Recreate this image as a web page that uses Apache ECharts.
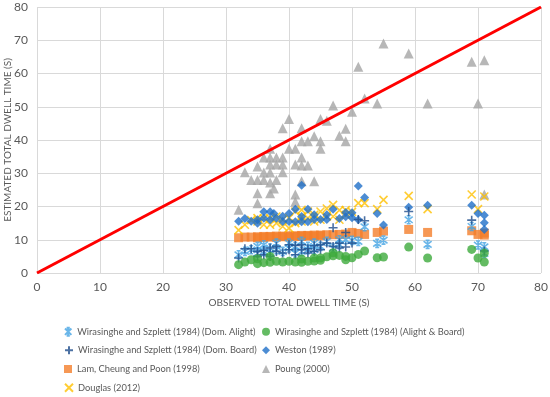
<!DOCTYPE html>
<html><head><meta charset="utf-8">
<script src="https://cdn.jsdelivr.net/npm/echarts@6/dist/echarts.min.js"></script>
<style>html,body{margin:0;padding:0;background:#fff}#c{width:550px;height:397px}</style>
</head><body><div id="c"></div>
<script>
// ---- data (observed, estimated) ----
const domAlight = [[32,5.5],[33,6.5],[34,7],[35,8],[35,6],[36,6.5],[36,8.5],[37,6],[37,7.5],[38,9],[38,7],[39,6.5],[40,9],[40,7.5],[41,6],[41,8],[42,9.5],[42,6.5],[43,8],[43,7],[44,9],[44,7],[45,8],[46,9.5],[47,7.5],[48,10],[48,8.5],[49,10],[50,9.8],[51,9.5],[52,13.9],[54,8.9],[55,9.9],[59,16],[62,8.6],[69,14],[70,8.4],[71,7.9],[71,5.9]];
const alightBoard = [[32,2.5],[33,3.3],[34,4],[35,4.3],[35,2.8],[36,3.1],[37,5],[37,3.2],[38,3.5],[39,3.3],[40,3.5],[41,3.3],[42,4.2],[42,3.2],[43,3.5],[44,4.5],[44,3.6],[45,3.8],[45,4.5],[46,4.9],[47,6.1],[47,5.2],[48,5.3],[49,5],[49,4],[50,4.6],[51,5.6],[52,6.6],[54,4.6],[55,4.8],[59,7.8],[62,4.5],[69,7.1],[70,4.5],[71,6],[71,3.3]];
const domBoard = [[32,4.5],[33,7.3],[34,7.3],[35,5],[35,6.5],[36,6.8],[36,5.5],[37,7.5],[37,5],[38,8],[38,6.5],[39,6],[40,8.5],[40,7],[41,8.3],[41,5.5],[42,8.5],[42,7],[43,7.3],[43,6],[44,8.2],[44,6.5],[45,8.5],[45,7],[46,9],[47,13.6],[47,8],[48,9],[48,7.5],[49,12.2],[49,7.8],[50,9],[51,16.1],[52,15.7],[59,18.5],[69,15.9],[71,6.6]];
const weston = [[32,15.6],[33,16.4],[34,15.6],[35,16],[35,15],[36,18.4],[36,16.5],[37,18.4],[37,16],[37.6,17.9],[38,16.5],[39,17.1],[39,15.5],[40,17.9],[40,15.5],[41,19.2],[41,15.4],[42,26.4],[42,15.4],[42,17],[43,19.2],[43,15.4],[44,16.1],[44,17.5],[45,16.1],[46,16.1],[46,17.5],[47,19.2],[48,16.4],[49,18.2],[49,16.9],[50,18.1],[50,16.6],[51,26.2],[51,16],[52,22.7],[54,17.9],[55,14.4],[59,19.8],[62,20.4],[69,20.4],[70,17.9],[71,17.4],[71,15.1],[71,13.1]];
const lam = [[32,10.6],[33,10.8],[34,10.8],[35,10.9],[35,10.6],[36,11],[36,10.7],[37,11],[37,10.8],[38,11.1],[38,10.8],[39,11.1],[39,10.9],[40,11.2],[40,10.9],[41,11.2],[41,11],[42,11.3],[42,11],[43,11.3],[43,11.1],[44,11.4],[44,11.1],[45,11.4],[45,11.2],[46,11.5],[47,11.5],[48,11.6],[49,11.7],[50,12.2],[51,11.9],[52,11.6],[54,12.2],[55,12.6],[59,13.1],[62,12.2],[69,12.7],[70,11.6],[71,11.4],[71,12]];
const poung = [[32,19],[33,30.3],[34,28],[35,28],[35,32],[35,24],[35,21],[36,28],[36,30.2],[36,34.7],[37,37.4],[37,34.7],[37,32.6],[37,30.2],[37,27.2],[37,24],[37.6,25.4],[38,28],[38,32.6],[38,34.7],[39,43.5],[39,34.7],[39,32.6],[39,30.3],[40,46.3],[40,37.4],[41,37.4],[41,32.6],[41,23.6],[41,21.4],[42,43.5],[42,39.6],[42,34.7],[42,32.3],[42,27.6],[43,39.6],[43,32.3],[44,41.1],[44,27.6],[45,46.3],[45,39.6],[45,37.4],[46,45.8],[47,50.4],[48,41.3],[49,43.4],[49,39.6],[50,48.5],[51,62],[52,52.5],[54,51],[55,69],[59,66],[62,51],[69,63.5],[70,51],[71,64],[71,23.6]];
const douglas = [[32,12.9],[33,14.5],[34,15.9],[35,15.5],[35,16.5],[36,16.4],[36,14.5],[37,16.5],[37,14.5],[38,17],[38,15],[39,16],[39,14],[40,16.5],[40,13.5],[41,18.5],[41,15],[42,19],[42,17],[42,15.5],[43,18.5],[43,16.5],[44,17.5],[44,15.5],[45,18.5],[45,16],[46,19.4],[46,17],[47,20.5],[47,17],[48,18.9],[48,16],[49,18.9],[49,17.5],[50,18.4],[51,21],[52,21],[54,19.2],[55,22],[59,23.2],[62,19.2],[69,23.6],[70,19.2],[71,23]];
const equalityLine = [[0,0],[80,80]];
const axisTicks = [0,10,20,30,40,50,60,70,80];

const names = ['Wirasinghe and Szplett (1984) (Dom. Alight)','Wirasinghe and Szplett (1984) (Alight & Board)','Wirasinghe and Szplett (1984) (Dom. Board)','Weston (1989)','Lam, Cheung and Poon (1998)','Poung (2000)','Douglas (2012)'];

const FONT = 'Lato';
const TXT = '#595959';
const starPath = 'path://M1,1L9,9M9,1L1,9M5,0L5,10M3,0L7,0M3,10L7,10';
const plusPath = 'path://M5,0L5,10M0,5L10,5';
const xPath = 'path://M0,0L10,10M10,0L0,10';

function strokeSeries(name, data, path, color, size){
  return {name, type:'scatter', data, symbol:path, symbolSize:size,
    itemStyle:{color:'rgba(0,0,0,0)', borderColor:color, borderWidth:1.6}};
}
function fillSeries(name, data, symbol, color, size){
  return {name, type:'scatter', data, symbol, symbolSize:size, itemStyle:{color}};
}

const chart = echarts.init(document.getElementById('c'), null, {renderer:'canvas'});
const axisCommon = {
  type:'value', min:0, max:80, interval:10,
  axisLine:{show:false}, axisTick:{show:false},
  splitLine:{show:true, lineStyle:{color:'#D9D9D9', width:1}},
  axisLabel:{color:TXT, fontFamily:FONT, fontSize:12,
    formatter: v => axisTicks.includes(v) ? String(v) : ''},
  nameLocation:'middle', nameMoveOverlap:false,
  nameTextStyle:{color:TXT, fontFamily:FONT, fontSize:10}
};
const legendSlots = [[64,331.7],[262,331.7],[64,350.3],[262,350.3],[64,369],[262,369],[64,387.7]];
const legendOrder = [0,1,2,3,4,5,6];
const legends = legendOrder.map((idx, k) => ({
  orient:'horizontal', left:legendSlots[k][0], top:legendSlots[k][1]-6,
  itemWidth:8, itemHeight:8, padding:0, itemGap:0,
  textStyle:{color:TXT, fontFamily:FONT, fontSize:9.3, lineHeight:12},
  data:[names[idx]]
}));
chart.setOption({
  animation:false,
  grid:{left:37, right:9, top:7, bottom:124, containLabel:false, outerBoundsMode:'none'},
  xAxis:Object.assign({}, axisCommon, {name:'OBSERVED TOTAL DWELL TIME (S)', nameGap:25, axisLabel:Object.assign({}, axisCommon.axisLabel, {margin:8})}),
  yAxis:Object.assign({}, axisCommon, {name:'ESTIMATED TOTAL DWELL TIME (S)', nameGap:24, axisLabel:Object.assign({}, axisCommon.axisLabel, {margin:9})}),
  legend:legends,
  series:[
    fillSeries(names[5], poung, 'triangle', '#A5A5A5', 10),
    fillSeries(names[4], lam, 'rect', '#F47E2B', 9),
    strokeSeries(names[6], douglas, xPath, '#FFC000', 8),
    fillSeries(names[3], weston, 'diamond', '#1F6FC8', 9),
    strokeSeries(names[0], domAlight, starPath, '#45A4E4', 8),
    strokeSeries(names[2], domBoard, plusPath, '#1F4E8C', 9),
    fillSeries(names[1], alightBoard, 'circle', '#3DAA3C', 9),
    {name:'equality', type:'line', data:equalityLine, symbol:'none', z:5,
     lineStyle:{color:'#FF0000', width:3}}
  ]
});
</script></body></html>
